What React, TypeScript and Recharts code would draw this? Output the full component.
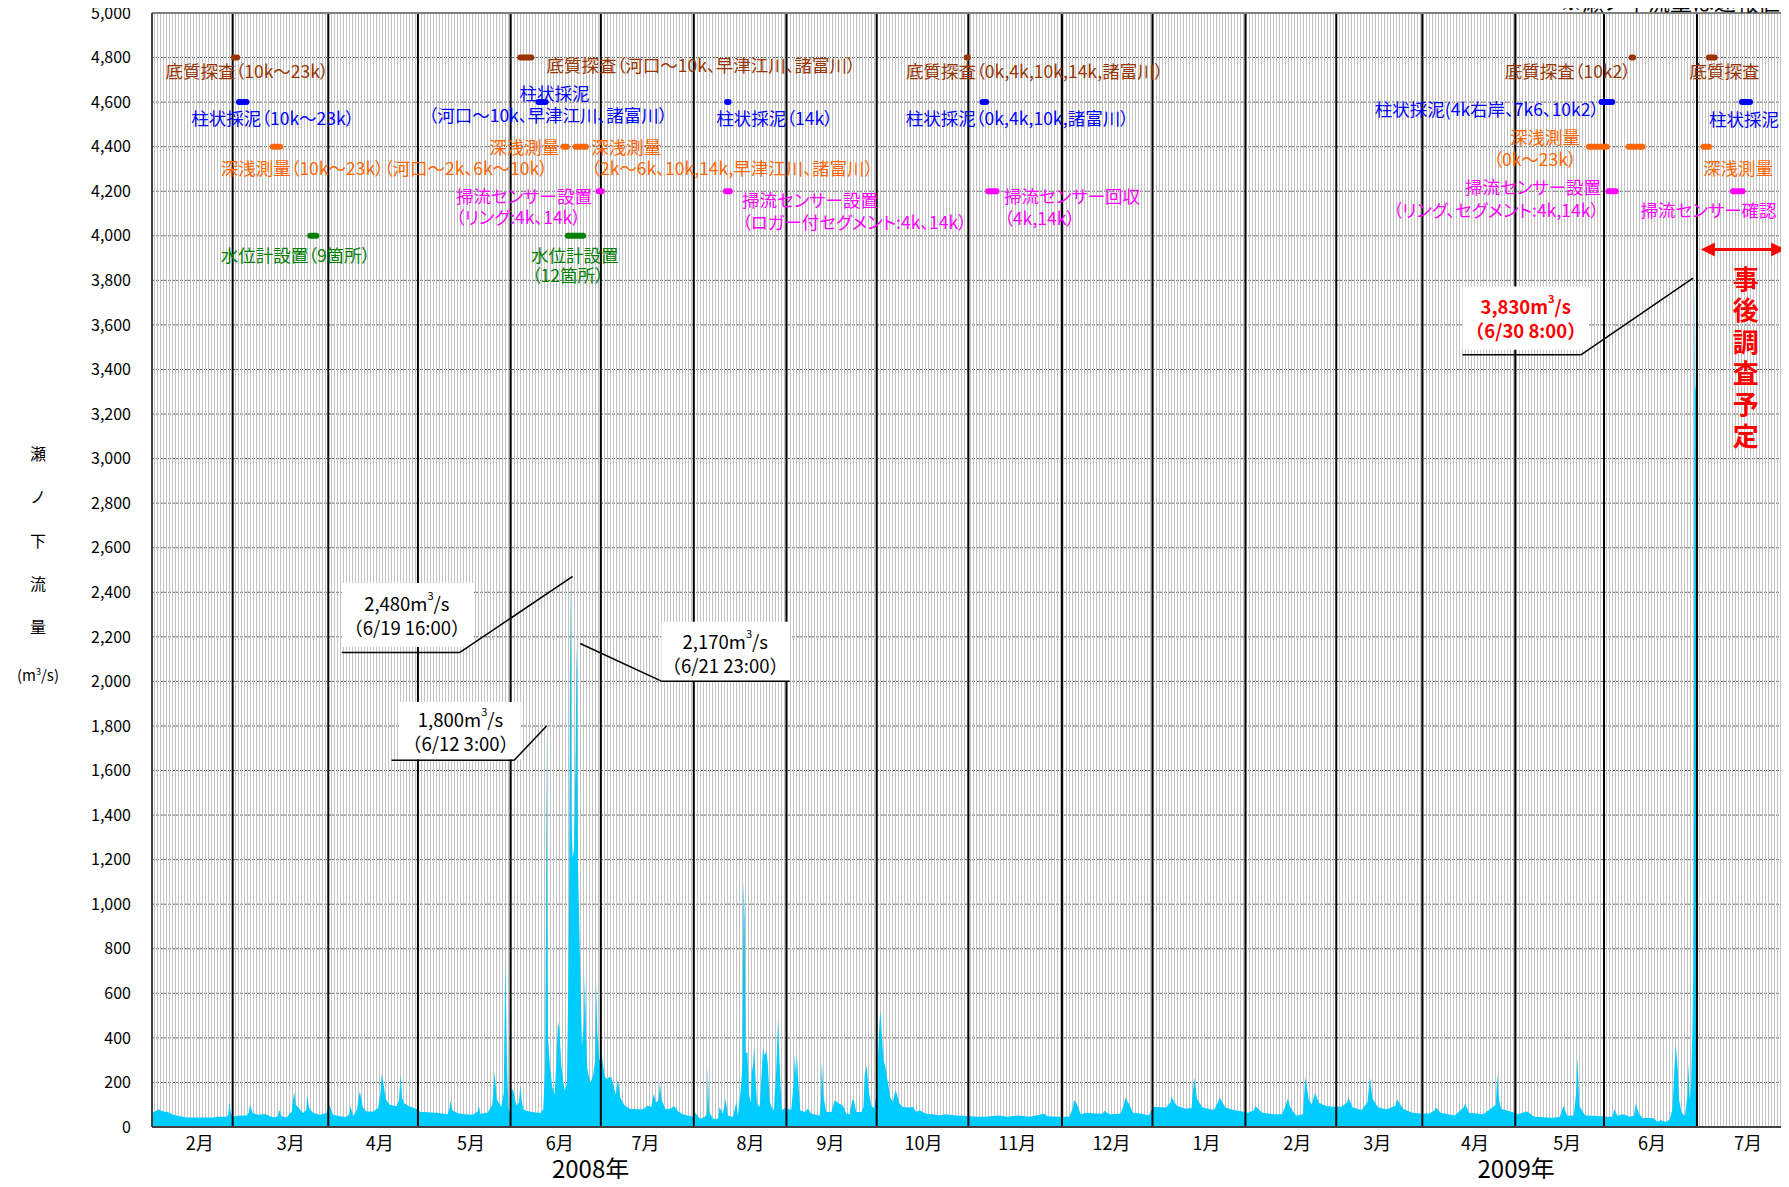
import React from 'react';
import {
  Area,
  AreaChart,
  CartesianGrid,
  ReferenceArea,
  ReferenceDot,
  ReferenceLine,
  XAxis,
  YAxis,
} from 'recharts';

const FONT = "'Noto Sans CJK JP', 'Noto Sans', sans-serif";
const FLOW_COLOR = '#00ccff';
const BROWN = '#993300';
const BLUE = '#0000ff';
const ORANGE = '#ff6600';
const MAGENTA = '#ff00ff';
const GREEN = '#008000';
const RED = '#ff0000';

// [t, 流量 m3/s]  t = days from the left edge of the plot (about 2008/2/3)
const FLOW_2008_02 = [[0, 63], [1, 70], [2.1, 78], [3, 74], [3.8, 70], [5.4, 66], [7.1, 55], [9.3, 48], [11.6, 43], [14, 43], [17, 43], [20.5, 43], [21.6, 46], [24.9, 46], [25.4, 55], [25.8, 110], [26.2, 70], [26.7, 50]];
const FLOW_2008_03 = [[27.7, 48], [29.3, 52], [31.6, 52], [32.3, 65], [32.7, 100], [33.6, 63], [35.4, 55], [37.7, 58], [39.3, 48], [41, 43], [42, 50], [42.4, 78], [43.2, 48], [44.9, 43], [46.6, 70], [47.4, 158], [48, 100], [49.1, 82], [50.4, 63], [51.4, 75], [51.8, 140], [52.4, 85], [53.8, 63], [56, 55], [58.2, 63]];
const FLOW_2008_04 = [[59.1, 100], [60.4, 55], [62.7, 48], [64.9, 45], [65.8, 60], [66.2, 93], [67.1, 48], [68.4, 80], [68.8, 122], [69.3, 160], [70.4, 85], [71.6, 70], [73.8, 70], [75.4, 85], [76.2, 150], [76.6, 239], [77.1, 205], [78, 122], [79.3, 100], [81.6, 93], [82.4, 120], [82.9, 240], [83.4, 130], [84.2, 105], [85.5, 95], [87, 88], [88.4, 80]];
const FLOW_2008_05 = [[89.5, 67], [92, 66], [94.7, 64], [98.6, 57], [99.2, 80], [99.5, 120], [100.2, 75], [102, 62], [104.3, 57], [107, 55], [108.6, 70], [109, 97], [109.5, 60], [111.9, 64], [113.5, 100], [114.3, 247], [115, 124], [116.5, 90], [117.3, 150], [117.6, 469], [117.9, 749], [118.2, 450], [118.5, 240], [118.9, 90], [119.3, 65]];
const FLOW_2008_06 = [[119.8, 171], [120.5, 165], [121, 130], [121.6, 96], [122.4, 110], [122.9, 188], [123.3, 120], [123.8, 80], [125, 72], [126.5, 68], [128, 65], [129.5, 63], [130.5, 80], [131.1, 260], [131.4, 900], [131.6, 1800], [131.8, 1060], [132.1, 395], [132.8, 262], [133.5, 180], [134.3, 146], [134.9, 300], [135.4, 470], [135.9, 440], [136.5, 279], [137.2, 200], [137.7, 163], [138.4, 196], [138.8, 600], [139.1, 985], [139.4, 2030], [139.7, 2480], [139.9, 1400], [140.3, 1210], [140.8, 1250], [141.3, 1700], [141.6, 2170], [141.8, 2030], [142.1, 1168], [142.5, 900], [142.9, 680], [143.4, 362], [144, 453], [144.4, 686], [144.8, 400], [145.2, 262], [146.2, 196], [147.1, 229], [147.8, 300], [148.1, 661], [148.5, 428], [149.2, 300]];
const FLOW_2008_07 = [[150.1, 312], [151, 229], [151.8, 213], [152.5, 225], [153.2, 221], [154, 180], [154.7, 146], [155.4, 213], [156.2, 130], [157.7, 96], [159.3, 82], [161.7, 80], [163.8, 80], [165.4, 96], [166.5, 90], [167.4, 150], [168, 110], [169, 120], [169.4, 202], [169.9, 124], [171.3, 80], [173, 82], [174.1, 94], [175.5, 70], [177, 57], [179, 50], [180.5, 48]];
const FLOW_2008_08 = [[181, 67], [182.7, 37], [184.3, 45], [185.1, 60], [185.4, 267], [185.8, 70], [187.1, 37], [188.8, 37], [189.3, 90], [190.4, 60], [191.3, 127], [192.1, 52], [193.8, 45], [194.9, 112], [195.4, 52], [196.3, 157], [196.9, 262], [197.3, 1108], [197.7, 921], [198, 330], [198.6, 337], [199.1, 150], [199.7, 105], [200.1, 285], [200.4, 250], [200.8, 360], [201.2, 247], [201.8, 105], [202.7, 90], [203.8, 352], [204.3, 322], [204.9, 340], [205.4, 285], [206, 120], [206.6, 90], [207.4, 75], [208.2, 255], [208.8, 479], [209.1, 375], [209.6, 195], [210.1, 75], [211, 85]];
const FLOW_2008_09 = [[212.1, 82], [213.2, 75], [214, 195], [214.4, 327], [214.9, 217], [215.1, 327], [215.6, 195], [216.2, 75], [217.7, 67], [218.8, 82], [219.9, 60], [222.7, 52], [223.1, 120], [223.4, 295], [224, 135], [224.9, 67], [226.6, 67], [227.3, 100], [227.7, 120], [229.1, 105], [230.4, 97], [231.6, 60], [232.7, 57], [233.6, 120], [234, 127], [234.9, 67], [236.6, 67], [237.3, 90], [237.7, 232], [238.4, 277], [239, 165], [239.9, 97], [241, 82]];
const FLOW_2008_10 = [[242, 200], [242.2, 330], [242.7, 479], [243, 524], [243.4, 419], [244, 300], [244.6, 270], [245.1, 225], [245.7, 180], [246.2, 135], [247.1, 112], [247.7, 150], [248, 165], [248.4, 150], [249.3, 105], [250.4, 90], [252.7, 87], [253.8, 90], [254.9, 67], [256, 75], [258.2, 60], [260.4, 57], [262.7, 52], [264.5, 57], [268.2, 52], [272, 49]];
const FLOW_2008_11 = [[275, 46], [277.7, 46], [282.4, 52], [285.2, 46], [289, 52], [292.8, 46], [297.5, 60], [298.8, 48], [303, 46]];
const FLOW_2008_12 = [[306, 46], [307.2, 90], [307.5, 120], [308.3, 109], [309.8, 57], [311.7, 64], [314.5, 61], [317, 60], [317.7, 72], [319.3, 57], [323, 60], [324.2, 100], [324.6, 132], [325.9, 102], [327.2, 64], [329.7, 61], [332.5, 52]];
const FLOW_2009_01 = [[334, 91], [338.2, 87], [339.7, 110], [340, 135], [341.9, 94], [344.8, 82], [346.7, 85], [347.6, 222], [348.6, 124], [350.4, 87], [354.2, 76], [355.5, 110], [356.1, 132], [358, 87], [360.8, 76], [363.7, 70]];
const FLOW_2009_02 = [[365.6, 64], [367.5, 75], [368, 94], [370.3, 64], [374, 57], [376.9, 57], [378.2, 100], [378.8, 127], [379.7, 87], [381.6, 52], [383.9, 57], [384.7, 226], [385.8, 124], [386.9, 100], [387.9, 154], [389.2, 109], [391.1, 97], [393.9, 91]];
const FLOW_2009_03 = [[396.7, 91], [398.6, 110], [399, 132], [400.5, 87], [403.4, 76], [405.4, 110], [406.2, 222], [407.1, 127], [409, 87], [411.9, 80], [414.7, 95], [415.3, 124], [416.6, 95], [417.5, 80], [420.4, 64], [423.2, 61]];
const FLOW_2009_04 = [[426, 61], [427.9, 75], [428.3, 87], [429.8, 64], [434.5, 52], [437.6, 90], [437.9, 106], [439.3, 64], [444, 57], [448.2, 100], [448.7, 237], [449.3, 120], [450, 82], [452.5, 72], [454.4, 64]];
const FLOW_2009_05 = [[455.3, 57], [458.7, 70], [461, 46], [466.7, 42], [469.5, 45], [470.8, 94], [472, 50], [474.2, 52], [475, 150], [475.4, 315], [476.1, 94], [478, 52], [482.7, 49]];
const FLOW_2009_06 = [[484.9, 46], [487.1, 46], [487.7, 79], [488.8, 50], [491, 57], [492.7, 46], [494.3, 50], [494.9, 106], [495.8, 64], [497.1, 40], [499.3, 40], [501, 39], [502.1, 22], [503.2, 31], [504.9, 22], [506.2, 34], [507.1, 80], [507.3, 132], [508.2, 371], [508.9, 259], [509.3, 124], [510.2, 64], [511.3, 49], [512.1, 139], [512.4, 286], [512.9, 124], [513.3, 177], [513.8, 454], [514.1, 709], [514.3, 1500], [514.45, 3330], [514.6, 3830], [514.75, 3330], [515, 3300]];

const FLOW = [
  ...FLOW_2008_02, ...FLOW_2008_03, ...FLOW_2008_04, ...FLOW_2008_05, ...FLOW_2008_06,
  ...FLOW_2008_07, ...FLOW_2008_08, ...FLOW_2008_09, ...FLOW_2008_10, ...FLOW_2008_11,
  ...FLOW_2008_12, ...FLOW_2009_01, ...FLOW_2009_02, ...FLOW_2009_03, ...FLOW_2009_04,
  ...FLOW_2009_05, ...FLOW_2009_06,
].map(([t, v]) => ({ t, v }));

const X_MAX = 545;
const MONTH_LINES = [26.9, 58.8, 88.7, 119.6, 149.7, 180.7, 211.6, 241.7, 272.3, 303.5, 333.7, 364.7, 395, 423.7, 454.7, 484.3, 515.3];
const MONTH_LABEL_T = [15.9, 46.3, 76, 106.4, 136, 164.6, 199.6, 226.3, 257.3, 288.6, 320, 351.7, 382, 408.7, 441.3, 472, 500.3, 532.3];
const MONTH_LABELS = ['2月', '3月', '4月', '5月', '6月', '7月', '8月', '9月', '10月', '11月', '12月', '1月', '2月', '3月', '4月', '5月', '6月', '7月'];
const YEAR_T = [146.3, 455];
const YEAR_LABELS = ['2008年', '2009年'];
const Y_TICKS = Array.from({ length: 26 }, (_, i) => i * 200);
const DAYS = Array.from({ length: X_MAX + 1 }, (_, i) => i);

// 調査の実施期間 [from, to]
const BOTTOM_SURVEY = [[27.3, 28.4], [122.8, 126.5], [271.7, 272.1], [493.5, 494], [519.3, 521.2]];
const CORE_SAMPLING = [[29, 31.5], [128.9, 131.3], [191.8, 192.3], [277, 278.2], [483.5, 487], [530.3, 533]];
const DEPTH_SURVEY = [[40.3, 42.7], [137.2, 138.4], [141.3, 144.7], [479.3, 485.2], [492.5, 497.1], [517.5, 519.3]];
const SENSOR_WORK = [[149, 150], [191.4, 192.7], [278.9, 281.7], [485.8, 488.2], [527.3, 530.5]];
const GAUGE_SETUP = [[52.8, 54.8], [138.7, 143.8]];

const SURVEY_ROWS = [
  { level: 4800, color: BROWN, spans: BOTTOM_SURVEY },
  { level: 4600, color: BLUE, spans: CORE_SAMPLING },
  { level: 4400, color: ORANGE, spans: DEPTH_SURVEY },
  { level: 4200, color: MAGENTA, spans: SENSOR_WORK },
  { level: 4000, color: GREEN, spans: GAUGE_SETUP },
];

type Note = { t: number; v: number; text: string; color: string; anchor?: 'start' | 'end' };

const NOTES: Note[] = [
  { t: 4.5, v: 4742, text: '底質探査（10k～23k）', color: BROWN },
  { t: 131.6, v: 4769, text: '底質探査（河口～10k、早津江川、諸富川）', color: BROWN },
  { t: 251.5, v: 4742, text: '底質探査（0k,4k,10k,14k,諸富川）', color: BROWN },
  { t: 493.3, v: 4742, text: '底質探査（10k2）', color: BROWN, anchor: 'end' },
  { t: 512.8, v: 4742, text: '底質探査', color: BROWN },
  { t: 13.1, v: 4529, text: '柱状採泥（10k～23k）', color: BLUE },
  { t: 122.6, v: 4644, text: '柱状採泥', color: BLUE },
  { t: 92.2, v: 4544, text: '（河口～10k、早津江川、諸富川）', color: BLUE },
  { t: 188.2, v: 4529, text: '柱状採泥（14k）', color: BLUE },
  { t: 251.4, v: 4529, text: '柱状採泥（0k,4k,10k,諸富川）', color: BLUE },
  { t: 482.7, v: 4570, text: '柱状採泥(4k右岸、7k6、10k2）', color: BLUE, anchor: 'end' },
  { t: 519.3, v: 4525, text: '柱状採泥', color: BLUE },
  { t: 22.9, v: 4307, text: '深浅測量（10k～23k）（河口～2k、6k～10k）', color: ORANGE },
  { t: 135.8, v: 4402, text: '深浅測量', color: ORANGE, anchor: 'end' },
  { t: 146.5, v: 4399, text: '深浅測量', color: ORANGE },
  { t: 146.5, v: 4305, text: '（2k～6k、10k,14k,早津江川、諸富川）', color: ORANGE },
  { t: 476.3, v: 4447, text: '深浅測量', color: ORANGE, anchor: 'end' },
  { t: 475.2, v: 4345, text: '（0k～23k）', color: ORANGE, anchor: 'end' },
  { t: 517.3, v: 4305, text: '深浅測量', color: ORANGE },
  { t: 101.4, v: 4180, text: '掃流センサー設置', color: MAGENTA },
  { t: 101.3, v: 4087, text: '（リング:4k、14k）', color: MAGENTA },
  { t: 196.8, v: 4162, text: '掃流センサー設置', color: MAGENTA },
  { t: 196.8, v: 4065, text: '（ロガー付セグメント:4k、14k）', color: MAGENTA },
  { t: 284.2, v: 4180, text: '掃流センサー回収', color: MAGENTA },
  { t: 284.2, v: 4080, text: '（4k,14k）', color: MAGENTA },
  { t: 483.3, v: 4222, text: '掃流センサー設置', color: MAGENTA, anchor: 'end' },
  { t: 482.7, v: 4120, text: '（リング、セグメント:4k,14k）', color: MAGENTA, anchor: 'end' },
  { t: 496.5, v: 4120, text: '掃流センサー確認', color: MAGENTA },
  { t: 22.9, v: 3915, text: '水位計設置（9箇所）', color: GREEN },
  { t: 126.4, v: 3918, text: '水位計設置', color: GREEN },
  { t: 126.7, v: 3825, text: '（12箇所）', color: GREEN },
];

// peak call-outs: value, time, leader (peak -> elbow -> end), white box, text centre
const CALLOUTS = [
  { value: '2,480', when: '（6/19 16:00）', color: '#000', bold: false, leader: [[140.3, 2471], [102.7, 2130], [63.3, 2130]], box: [63.3, 107.3, 2154, 2442], text: [85, 2298] },
  { value: '2,170', when: '（6/21 23:00）', color: '#000', bold: false, leader: [[142.8, 2170], [169.9, 2001], [212.7, 2001]], box: [169.9, 212.7, 2001, 2268], text: [191.2, 2128] },
  { value: '1,800', when: '（6/12 3:00）', color: '#000', bold: false, leader: [[131.6, 1800], [120.8, 1646], [79.9, 1646]], box: [82.5, 123, 1650, 1908], text: [102.9, 1779] },
  { value: '3,830', when: '（6/30 8:00）', color: RED, bold: true, leader: [[514, 3810], [476.6, 3466], [437.1, 3466]], box: [437.1, 479.3, 3488, 3773], text: [458.2, 3632] },
];

const Y_LABEL = ['瀬', 'ノ', '下', '流', '量'];
const PLANNED = ['事', '後', '調', '査', '予', '定'];

const noteShape = (note: Note) => (p: any) => (
  <text
    x={p.cx}
    y={p.cy}
    fill={note.color}
    fontSize={17.5}
    fontFamily={FONT}
    textAnchor={note.anchor ?? 'start'}
    dominantBaseline="central"
    style={{ fontFeatureSettings: '"palt"' }}
  >
    {note.text}
  </text>
);

const calloutShape = (c: (typeof CALLOUTS)[number]) => (p: any) => (
  <g fontFamily={FONT} fill={c.color} fontWeight={c.bold ? 700 : 400} fontSize={18.5} textAnchor="middle">
    <text x={p.cx} y={p.cy - 12} dominantBaseline="central">
      {c.value}m<tspan dy={-8} fontSize={11}>3</tspan>
      <tspan dy={8}>/s</tspan>
    </text>
    <text x={p.cx} y={p.cy + 12} dominantBaseline="central">
      {c.when}
    </text>
  </g>
);

const arrowShape = (p: any) => {
  const { x1, y1, x2, y2 } = p;
  const h = 14;
  const w = 7;
  return (
    <g>
      <line x1={x1 + h - 2} y1={y1} x2={x2 - h + 2} y2={y2} stroke={RED} strokeWidth={3} />
      <polygon points={`${x1},${y1} ${x1 + h},${y1 - w} ${x1 + h},${y1 + w}`} fill={RED} />
      <polygon points={`${x2},${y2} ${x2 - h},${y2 - w} ${x2 - h},${y2 + w}`} fill={RED} />
    </g>
  );
};

const plannedShape = (p: any) => (
  <g fontFamily={FONT} fill={RED} fontWeight={700} fontSize={26} textAnchor="middle">
    {PLANNED.map((ch, i) => (
      <text key={ch} x={p.cx} y={p.cy + i * 31.3} dominantBaseline="central">
        {ch}
      </text>
    ))}
  </g>
);

export default function App() {
  return (
    <div style={{ position: 'relative', width: 1789, height: 1187, margin: -8, background: '#fff', fontFamily: FONT }}>
      <AreaChart width={1789} height={1187} data={FLOW} margin={{ top: 13, right: 3, bottom: 0, left: 0 }}>
        <CartesianGrid vertical={false} stroke="#606060" strokeDasharray="3 1" />
        {DAYS.map((d) => (
          <ReferenceLine key={`d${d}`} x={d} stroke="#c4c4c4" strokeWidth={1} shapeRendering="crispEdges" zIndex={-60} />
        ))}

        <Area
          type="linear"
          dataKey="v"
          stroke="none"
          fill={FLOW_COLOR}
          fillOpacity={1}
          dot={false}
          activeDot={false}
          isAnimationActive={false}
        />

        {MONTH_LINES.map((m) => (
          <ReferenceLine key={`m${m}`} x={m} stroke="#000" strokeWidth={2} zIndex={450} />
        ))}
        <ReferenceLine y={5000} stroke="#808080" strokeWidth={2} zIndex={450} />
        <ReferenceLine x={X_MAX} stroke="#606060" strokeWidth={2} zIndex={450} />

        {SURVEY_ROWS.map((row) =>
          row.spans.map(([a, b]) => (
            <ReferenceLine
              key={`${row.level}-${a}`}
              segment={[{ x: a, y: row.level }, { x: b, y: row.level }]}
              stroke={row.color}
              strokeWidth={6}
              strokeLinecap="round"
              zIndex={800}
            />
          )),
        )}

        {CALLOUTS.map((c) => (
          <ReferenceArea
            key={`box${c.value}`}
            x1={c.box[0]}
            x2={c.box[1]}
            y1={c.box[2]}
            y2={c.box[3]}
            fill="#fff"
            fillOpacity={1}
            stroke="none"
            zIndex={700}
          />
        ))}
        {CALLOUTS.map((c) =>
          [0, 1].map((i) => (
            <ReferenceLine
              key={`lead${c.value}-${i}`}
              segment={[
                { x: c.leader[i][0], y: c.leader[i][1] },
                { x: c.leader[i + 1][0], y: c.leader[i + 1][1] },
              ]}
              stroke="#000"
              strokeWidth={1.5}
              zIndex={800}
            />
          )),
        )}
        {CALLOUTS.map((c) => (
          <ReferenceDot key={`txt${c.value}`} x={c.text[0]} y={c.text[1]} shape={calloutShape(c)} zIndex={900} />
        ))}

        {NOTES.map((n, i) => (
          <ReferenceDot key={`note${i}`} x={n.t} y={n.v} shape={noteShape(n)} zIndex={900} />
        ))}

        <ReferenceLine segment={[{ x: 516.6, y: 3939 }, { x: 544.7, y: 3939 }]} shape={arrowShape} zIndex={900} />
        <ReferenceDot x={531.6} y={3812} shape={plannedShape} zIndex={900} />

        <XAxis
          dataKey="t"
          type="number"
          domain={[0, X_MAX]}
          allowDataOverflow
          ticks={MONTH_LABEL_T}
          interval={0}
          tickFormatter={(v: number) => MONTH_LABELS[MONTH_LABEL_T.indexOf(v)]}
          tickLine={false}
          tickMargin={4}
          height={30}
          axisLine={{ stroke: '#404040', strokeWidth: 2 }}
          tick={{ fontSize: 18, fill: '#000', fontFamily: FONT }}
        />
        <XAxis
          xAxisId="year"
          dataKey="t"
          type="number"
          domain={[0, X_MAX]}
          allowDataOverflow
          ticks={YEAR_T}
          interval={0}
          tickFormatter={(v: number) => YEAR_LABELS[YEAR_T.indexOf(v)]}
          tickLine={false}
          tickSize={0}
          tickMargin={4}
          height={30}
          axisLine={false}
          tick={{ fontSize: 24, fill: '#000', fontFamily: FONT }}
        />
        <YAxis
          type="number"
          domain={[0, 5000]}
          allowDataOverflow
          ticks={Y_TICKS}
          interval={0}
          width={152}
          tickLine={false}
          tickMargin={15}
          tickFormatter={(v: number) => v.toLocaleString('en-US')}
          axisLine={{ stroke: '#404040', strokeWidth: 2 }}
          tick={{ fontSize: 16, fill: '#000', fontFamily: FONT }}
        />
      </AreaChart>

      {Y_LABEL.map((ch, i) => (
        <div
          key={ch}
          style={{ position: 'absolute', left: 38, top: 453 + i * 43.3, transform: 'translate(-50%, -50%)', fontSize: 16, lineHeight: '16px' }}
        >
          {ch}
        </div>
      ))}
      <div style={{ position: 'absolute', left: 38, top: 673, transform: 'translate(-50%, -50%)', fontSize: 15, lineHeight: '15px', whiteSpace: 'nowrap' }}>
        (m<sup style={{ fontSize: 9 }}>3</sup>/s)
      </div>
      <div style={{ position: 'absolute', right: 9, top: -11, fontSize: 22, lineHeight: '22px', whiteSpace: 'nowrap' }}>
        ※瀬ノ下流量は速報値
      </div>
    </div>
  );
}
